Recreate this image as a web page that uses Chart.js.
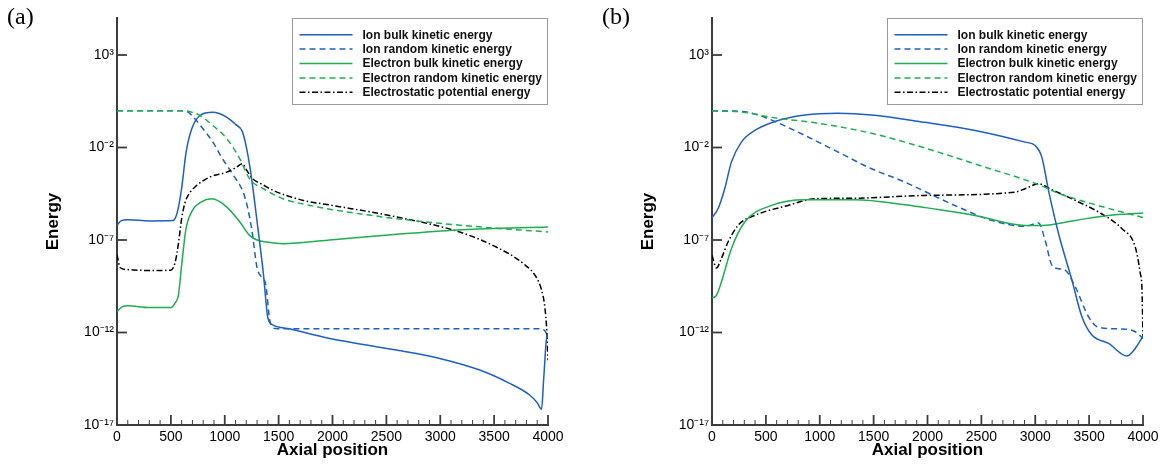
<!DOCTYPE html>
<html lang="en">
<head>
<meta charset="UTF-8">
<title>Energy vs axial position</title>
<script src="https://cdn.jsdelivr.net/npm/chart.js@4"></script>
<style>
  body { margin: 0; background: #fff; }
  .wrap { position: relative; width: 1166px; height: 466px; }
  .panel { position: absolute; top: 0; width: 583px; height: 466px; }
</style>
</head>
<body>
<div class="wrap">
  <div class="panel" style="left:0"><canvas id="chartA" width="583" height="466"></canvas></div>
  <div class="panel" style="left:583px"><canvas id="chartB" width="583" height="466"></canvas></div>
</div>
<script>
// legend text
const seriesNames = [
  'Ion bulk kinetic energy',
  'Ion random kinetic energy',
  'Electron bulk kinetic energy',
  'Electron random kinetic energy',
  'Electrostatic potential energy'
];

// axes
const xTicks = [0, 500, 1000, 1500, 2000, 2500, 3000, 3500, 4000];
const xMinorStep = 100;
const yTickExps = [-17, -12, -7, -2, 3];
const yMinExp = -17;
const yMaxExp = 5;

// panel (a) -- values are log10(energy)
const ionBulkA_x   = [0, 40, 100, 300, 520, 560, 600, 640, 690, 770, 890, 1020, 1100, 1160, 1190, 1240, 1300, 1360, 1400, 1450, 1600, 1975, 2594, 2995, 3366, 3644, 3830, 3900, 3940, 3960, 3985, 4000];
const ionBulkA_log = [-6.2, -5.95, -5.9, -5.97, -5.95, -5.5, -4.2, -2.3, -1.05, -0.27, -0.1, -0.37, -0.75, -1.1, -1.7, -3.3, -6.0, -8.9, -11.2, -11.6, -11.8, -12.32, -12.95, -13.4, -14.03, -14.75, -15.38, -15.8, -16.15, -14.5, -12.4, -12.1];

const ionRandA_x   = [0, 300, 600, 660, 700, 800, 900, 960, 1080, 1170, 1210, 1250, 1300, 1340, 1380, 1420, 1470, 1600, 3900, 3960, 4000];
const ionRandA_log = [-0.02, -0.02, -0.02, -0.08, -0.3, -1.0, -1.8, -2.43, -3.5, -4.4, -5.2, -6.4, -8.5, -9.0, -9.4, -11.4, -11.78, -11.8, -11.8, -11.85, -12.2];

const elecBulkA_x   = [0, 50, 100, 300, 500, 540, 570, 600, 640, 700, 780, 880, 1020, 1140, 1230, 1300, 1390, 1540, 2000, 2600, 3200, 4000];
const elecBulkA_log = [-10.88, -10.6, -10.56, -10.65, -10.65, -10.4, -9.98, -8.36, -6.4, -5.4, -4.95, -4.77, -5.22, -6.03, -6.75, -7.0, -7.11, -7.2, -6.98, -6.69, -6.44, -6.3];

const elecRandA_x   = [0, 300, 600, 650, 700, 770, 890, 1020, 1140, 1230, 1360, 1540, 1790, 2000, 2600, 3200, 4000];
const elecRandA_log = [-0.02, -0.02, -0.02, -0.03, -0.1, -0.27, -0.81, -1.53, -2.61, -3.69, -4.23, -4.77, -5.13, -5.36, -5.85, -6.21, -6.57];

const potA_x   = [0, 30, 100, 300, 500, 540, 570, 600, 630, 660, 740, 860, 1020, 1100, 1165, 1200, 1260, 1350, 1450, 1730, 2000, 2600, 3180, 3520, 3770, 3890, 3940, 3970, 3990, 4000];
const potA_log = [-7.8, -8.5, -8.6, -8.65, -8.63, -8.2, -7.2, -5.85, -5.0, -4.59, -4.05, -3.6, -3.33, -3.1, -2.88, -3.2, -3.69, -4.0, -4.32, -4.86, -5.13, -5.76, -6.57, -7.38, -8.27, -9.0, -9.7, -10.6, -12.0, -13.5];

// panel (b)
const ionBulkB_x   = [0, 56, 118, 180, 273, 397, 613, 862, 1171, 1481, 1977, 2441, 2906, 2999, 3061, 3123, 3216, 3340, 3433, 3526, 3680, 3851, 3928, 4000];
const ionBulkB_log = [-5.79, -5.31, -4.23, -2.79, -1.71, -1.08, -0.54, -0.24, -0.15, -0.24, -0.64, -1.08, -1.71, -1.89, -2.52, -4.32, -6.65, -9.17, -11.15, -12.14, -12.59, -13.27, -12.86, -12.2];

const ionRandB_x   = [0, 200, 335, 490, 862, 1171, 1481, 1791, 1977, 2286, 2596, 2906, 3030, 3092, 3154, 3216, 3278, 3371, 3495, 3588, 3836, 3928, 4000];
const ionRandB_log = [-0.02, -0.03, -0.1, -0.37, -1.35, -2.25, -3.15, -3.87, -4.38, -5.22, -5.94, -6.26, -6.08, -7.02, -8.36, -8.55, -8.63, -9.53, -11.15, -11.72, -11.82, -11.96, -12.32];

const elecBulkB_x   = [0, 40, 87, 180, 304, 552, 862, 1326, 1791, 1977, 2441, 2906, 3061, 3371, 3680, 4000];
const elecBulkB_log = [-10.13, -10.0, -9.27, -7.47, -6.03, -5.13, -4.82, -4.82, -5.09, -5.25, -5.67, -6.21, -6.21, -5.94, -5.67, -5.54];

const elecRandB_x   = [0, 250, 550, 1000, 1500, 2000, 2500, 3000, 3250, 3500, 4000];
const elecRandB_log = [-0.02, -0.06, -0.37, -0.7, -1.26, -2.07, -3.0, -3.94, -4.55, -5.0, -5.79];

const potB_x   = [0, 41, 87, 149, 242, 397, 707, 955, 1326, 1977, 2813, 2906, 3030, 3154, 3371, 3588, 3805, 3928, 3975, 3990, 4000];
const potB_log = [-7.83, -8.51, -8.0, -7.11, -6.21, -5.67, -5.13, -4.77, -4.74, -4.59, -4.41, -4.23, -3.96, -4.28, -4.86, -5.49, -6.39, -7.38, -8.81, -9.6, -12.23];

const BLUE = '#1f5fbd';
const GREEN = '#1fac52';
const BLACK = '#000000';
const AXIS = '#3c3c3c';
const SANS = '"Liberation Sans", Arial, Helvetica, sans-serif';

const SUP = { '-': '\u207B', '0': '\u2070', '1': '\u00B9', '2': '\u00B2', '3': '\u00B3', '4': '\u2074',
              '5': '\u2075', '6': '\u2076', '7': '\u2077', '8': '\u2078', '9': '\u2079' };
function powLabel(e) {
  return '10' + String(e).split('').map(c => SUP[c]).join('');
}

function pts(xs, logs) {
  return xs.map((x, i) => ({ x: x, y: Math.pow(10, logs[i]) }));
}

function line(label, data, color, dash, order) {
  return {
    label: label,
    data: data,
    borderColor: color,
    backgroundColor: color,
    borderWidth: 1.5,
    borderDash: dash,
    pointRadius: 0,
    cubicInterpolationMode: 'monotone',
    fill: false,
    order: order
  };
}

// inward tick marks, panel letter and boxed legend
const decorPlugin = {
  id: 'decor',
  afterDraw(chart, args, opts) {
    const ctx = chart.ctx;
    const area = chart.chartArea;
    const xs = chart.scales.x, ys = chart.scales.y;
    ctx.save();
    ctx.strokeStyle = AXIS;
    for (let v = xs.min; v <= xs.max; v += xMinorStep) {
      const px = xs.getPixelForValue(v);
      const major = xTicks.includes(v);
      ctx.lineWidth = major ? 1.8 : 1;
      ctx.beginPath();
      ctx.moveTo(px, area.bottom);
      ctx.lineTo(px, area.bottom - (major ? 10 : 5));
      ctx.stroke();
    }
    ctx.lineWidth = 1.8;
    yTickExps.forEach(e => {
      const py = ys.getPixelForValue(Math.pow(10, e));
      ctx.beginPath();
      ctx.moveTo(area.left, py);
      ctx.lineTo(area.left + 10, py);
      ctx.stroke();
    });

    // panel letter
    ctx.fillStyle = '#000';
    ctx.font = '24px "Liberation Serif", "Times New Roman", serif';
    ctx.textBaseline = 'middle';
    ctx.textAlign = 'left';
    ctx.fillText(opts.letter, opts.letterX, 18);

    // legend box
    const w = 256, h = 87;
    const bx = area.right - w, by = area.top;
    ctx.fillStyle = '#fff';
    ctx.fillRect(bx, by, w, h);
    ctx.strokeStyle = '#9a9a9a';
    ctx.lineWidth = 1;
    ctx.strokeRect(bx + 0.5, by + 0.5, w - 1, h - 1);
    ctx.font = 'bold 12px ' + SANS;
    chart.data.datasets.forEach((ds, i) => {
      const y = by + 16.7 + i * 14.4;
      ctx.strokeStyle = ds.borderColor;
      ctx.lineWidth = 1.5;
      ctx.setLineDash(ds.borderDash);
      ctx.beginPath();
      ctx.moveTo(bx + 7.5, y);
      ctx.lineTo(bx + 60.5, y);
      ctx.stroke();
      ctx.setLineDash([]);
      ctx.fillStyle = '#111';
      ctx.fillText(ds.label, bx + 70.5, y + 0.5);
    });
    ctx.restore();
  }
};

function makeChart(id, d, p) {
  return new Chart(document.getElementById(id), {
    type: 'line',
    data: {
      datasets: [
        line(seriesNames[0], pts(d.ionBulk[0], d.ionBulk[1]), BLUE, [], 1),
        line(seriesNames[1], pts(d.ionRand[0], d.ionRand[1]), BLUE, [6, 4], 2),
        line(seriesNames[2], pts(d.elecBulk[0], d.elecBulk[1]), GREEN, [], 1),
        line(seriesNames[3], pts(d.elecRand[0], d.elecRand[1]), GREEN, [6, 4], 0),
        line(seriesNames[4], pts(d.pot[0], d.pot[1]), BLACK, [6, 2.5, 1.5, 2.5], 1)
      ]
    },
    options: {
      responsive: false,
      animation: false,
      layout: { padding: { top: 18, right: p.rightPad, left: 0, bottom: 0 } },
      plugins: {
        legend: { display: false },
        tooltip: { enabled: false },
        decor: { letter: p.letter, letterX: p.letterX }
      },
      scales: {
        x: {
          type: 'linear',
          min: 0,
          max: 4000,
          afterBuildTicks: s => { s.ticks = xTicks.map(v => ({ value: v })); },
          afterFit: s => { s.height = 41; },
          grid: { display: false, drawTicks: false },
          border: { display: true, color: AXIS, width: 2 },
          ticks: {
            autoSkip: false, maxRotation: 0, padding: 4, color: '#000',
            font: { family: SANS, size: 14 },
            callback: v => String(v)
          },
          title: {
            display: true, text: 'Axial position', color: '#000',
            font: { family: SANS, size: 17, weight: 'bold' },
            padding: { top: 0, bottom: 5 }
          }
        },
        y: {
          type: 'logarithmic',
          min: Math.pow(10, yMinExp),
          max: Math.pow(10, yMaxExp),
          afterBuildTicks: s => { s.ticks = yTickExps.map(e => ({ value: Math.pow(10, e) })); },
          afterFit: s => { s.width = p.yWidth; },
          grid: { display: false, drawTicks: false },
          border: { display: true, color: AXIS, width: 2 },
          ticks: {
            autoSkip: false, padding: 3, color: '#000',
            font: { family: SANS, size: 14 },
            callback: v => powLabel(Math.round(Math.log10(v)))
          },
          title: {
            display: true, text: 'Energy', color: '#000',
            font: { family: SANS, size: 17, weight: 'bold' },
            padding: { top: p.yTitlePad, bottom: 0 }
          }
        }
      }
    },
    plugins: [decorPlugin]
  });
}

makeChart('chartA', {
  ionBulk: [ionBulkA_x, ionBulkA_log],
  ionRand: [ionRandA_x, ionRandA_log],
  elecBulk: [elecBulkA_x, elecBulkA_log],
  elecRand: [elecRandA_x, elecRandA_log],
  pot: [potA_x, potA_log]
}, { letter: '(a)', letterX: 7, yWidth: 117, rightPad: 35, yTitlePad: 43 });

makeChart('chartB', {
  ionBulk: [ionBulkB_x, ionBulkB_log],
  ionRand: [ionRandB_x, ionRandB_log],
  elecBulk: [elecBulkB_x, elecBulkB_log],
  elecRand: [elecRandB_x, elecRandB_log],
  pot: [potB_x, potB_log]
}, { letter: '(b)', letterX: 19, yWidth: 129, rightPad: 23, yTitlePad: 55 });
</script>
</body>
</html>
